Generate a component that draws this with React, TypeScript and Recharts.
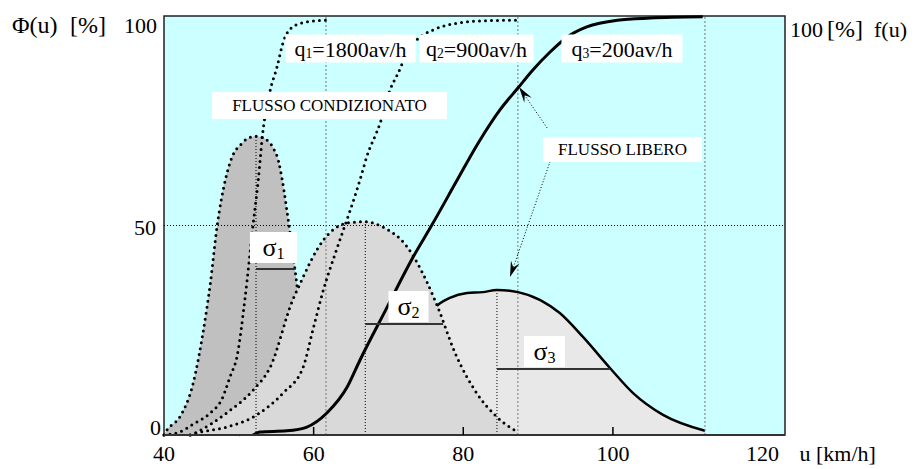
import React from 'react';
import {
  Area,
  CartesianGrid,
  ComposedChart,
  Line,
  ReferenceArea,
  ReferenceDot,
  ReferenceLine,
  XAxis,
  YAxis,
} from 'recharts';

type Row = [number, number];
type Pt = { u: number; p: number };

const toPoints = (rows: Row[]): Pt[] => rows.map(([u, p]) => ({ u, p }));

const serif = '"Liberation Serif", "Times New Roman", serif';

// axes
const xTicks = [40, 60, 80, 100, 120];
const yTicks = [0, 50, 100];

// frequency curves f(u), one per flow
const density1: Row[] = [
  [40, 0], [40.4, 1.2], [42.1, 4.3], [43.9, 12.4], [45.2, 24.3], [46.2, 36.3], [47.1, 49.9],
  [48.2, 60.9], [49.2, 66.8], [50.2, 69.2], [51.1, 70.7], [52.3, 71.3], [53.5, 70.7], [54.6, 68.5],
  [55.3, 65.4], [55.8, 60.9], [56.7, 50.1], [57.8, 35.3], [58.5, 24.3], [59.8, 12.4], [61.4, 4.3],
  [63.0, 0.7], [64.5, 0],
];
const density2: Row[] = [
  [43.5, 0], [44.4, 0.7], [48.4, 5.3], [51.9, 10.7], [54.2, 16.2], [57.2, 32.2], [57.8, 34.6],
  [61.3, 46.5], [64.5, 50.6], [66.9, 50.9], [69.3, 49.6], [72.5, 44.9], [75.2, 36.3], [76.6, 30.5],
  [78.9, 19.6], [81.8, 10.0], [84.5, 4.3], [87.3, 0.7],
];
const density3: Row[] = [
  [50, 0], [56, 3], [62, 8], [68, 15], [72, 21], [75, 27], [76.2, 30.3], [78.2, 32.7], [80.5, 33.9],
  [82.6, 34.1], [84.5, 34.6], [87.3, 34.1], [90.3, 32.2], [92.9, 29.1], [96.0, 23.4], [99.6, 16.0],
  [102.7, 10.0], [106.7, 4.8], [112.3, 1.0],
];

// cumulative curves Φ(u)
const cumul1: Row[] = [
  [40, 0], [42.1, 0.7], [43.9, 2.6], [46.2, 5.3], [47.8, 8.8], [48.8, 13.8], [49.8, 19.1],
  [50.8, 32.2], [51.9, 50.1], [52.6, 60.9], [53.2, 72.1], [54.2, 82.3], [55.1, 87.8], [55.9, 93.6],
  [57.2, 97.4], [59.1, 98.6], [61.65, 99.0],
];
const cumul2: Row[] = [
  [43.5, 0], [44.4, 0.5], [48.4, 1.9], [52.4, 4.8], [55.9, 10.0], [58.6, 16.2], [59.9, 25.1],
  [61.3, 34.6], [62.9, 43.4], [64.2, 50.1], [64.9, 53.7], [66.2, 60.9], [67.1, 66.4], [68.9, 74.5],
  [70.2, 82.3], [71.3, 86.4], [72.5, 91.2], [73.8, 94.3], [76.0, 96.7], [79.2, 98.3], [82.2, 98.8],
  [87.3, 99.0],
];
const cumul3: Row[] = [
  [51.9, 0], [52.8, 0.7], [56.4, 1.0], [59.1, 1.9], [61.8, 5.3], [64.5, 11.5], [66.2, 17.9],
  [69.5, 29.4], [73.3, 42.5], [75.8, 50.1], [79.2, 60.9], [82.0, 69.7], [84.9, 77.6], [87.3, 82.8],
  [89.3, 87.1], [91.6, 91.4], [93.9, 95.0], [96.5, 97.4], [100.6, 99.0], [105.0, 99.5], [112.0, 99.8],
];

// speed where each cumulative curve reaches 100%
const fullSpeeds = [61.65, 87.3, 112.3];
// mean speed and peak of each f(u)
const means: Row[] = [[52.3, 71.3], [66.9, 50.9], [84.5, 34.6]];
// standard deviation bars: [from u, to u, at %]
const sigmas: [number, number, number][] = [[52.3, 57.6, 39.6], [66.9, 77.3, 26.5], [84.5, 99.6, 15.75]];
// FLUSSO LIBERO arrows: [from u, from %, to u, to %]
const arrows: [number, number, number, number][] = [
  [91.2, 73.3, 87.45, 83.05],
  [92.0, 67.3, 86.24, 37.7],
];

type Note = { u: number; p: number; w: number; h: number; size: number; main: string; sub?: string; rest?: string };
const notes: Note[] = [
  { u: 64.93, p: 92.24, w: 130, h: 28, size: 22, main: 'q', sub: '1', rest: '=1800av/h' },
  { u: 81.77, p: 92.24, w: 114, h: 28, size: 22, main: 'q', sub: '2', rest: '=900av/h' },
  { u: 101.21, p: 92.24, w: 121, h: 28, size: 22, main: 'q', sub: '3', rest: '=200av/h' },
  { u: 62.12, p: 78.64, w: 235, h: 27, size: 17, main: 'FLUSSO CONDIZIONATO' },
  { u: 101.28, p: 68.14, w: 159, h: 25, size: 17, main: 'FLUSSO LIBERO' },
  { u: 54.63, p: 44.75, w: 47, h: 31, size: 26, main: 'σ', sub: '1' },
  { u: 72.68, p: 30.67, w: 40, h: 31, size: 26, main: 'σ', sub: '2' },
  { u: 90.86, p: 19.93, w: 41, h: 31, size: 26, main: 'σ', sub: '3' },
];

const dotted = { strokeDasharray: '0 6', strokeLinecap: 'round' as const, strokeWidth: 3 };

function noteShape(n: Note) {
  return (props: any) => {
    const { cx, cy } = props;
    const d = n.size * 0.22;
    return (
      <g>
        <rect x={cx - n.w / 2} y={cy - n.h / 2} width={n.w} height={n.h} fill="#fff" />
        <text x={cx} y={cy} textAnchor="middle" dominantBaseline="central" fontSize={n.size} fontFamily={serif} fill="#000">
          {n.main}
          {n.sub && <tspan fontSize={n.size * 0.62} dy={d}>{n.sub}</tspan>}
          {n.rest && <tspan dy={-d}>{n.rest}</tspan>}
        </text>
      </g>
    );
  };
}

function Arrow(props: any) {
  const { x1, y1, x2, y2 } = props;
  const dx = x2 - x1;
  const dy = y2 - y1;
  const len = Math.hypot(dx, dy) || 1;
  const ux = dx / len;
  const uy = dy / len;
  const bx = x2 - ux * 16;
  const by = y2 - uy * 16;
  const nx = x2 - ux * 10;
  const ny = y2 - uy * 10;
  const head = `${x2},${y2} ${bx - uy * 4.5},${by + ux * 4.5} ${nx},${ny} ${bx + uy * 4.5},${by - ux * 4.5}`;
  return (
    <g>
      <line x1={x1} y1={y1} x2={nx} y2={ny} stroke="#000" strokeWidth={1} strokeDasharray="1 2" />
      <polygon points={head} fill="#000" />
    </g>
  );
}

const leftShift: Record<number, [number, number]> = { 100: [1, 9], 50: [0, 2], 0: [5, -8] };

function LeftTick({ x, y, payload }: any) {
  const v = payload.value as number;
  const [sx, sy] = leftShift[v] ?? [0, 0];
  return (
    <g>
      {v === 100 && (
        <>
          <text x={12} y={y + sy} dominantBaseline="central" fontFamily={serif} fontSize={24} fill="#000">
            Φ(u)<tspan x={70}>[%]</tspan>
          </text>
          <text x={790} y={y + 13} dominantBaseline="central" fontFamily={serif} fontSize={22} fill="#000">
            100<tspan x={827} fontSize={24}>[%]</tspan><tspan x={874}>f(u)</tspan>
          </text>
        </>
      )}
      <text x={x + sx} y={y + sy} textAnchor="end" dominantBaseline="central" fontFamily={serif} fontSize={22} fill="#000">
        {v}
      </text>
    </g>
  );
}

function BottomTick({ x, y, payload }: any) {
  const v = payload.value as number;
  return (
    <g>
      {v > 40 && v < 120 && <line x1={x} x2={x} y1={y - 8} y2={y - 16} stroke="#000" strokeWidth={1.5} />}
      <text x={x} y={y + 10} textAnchor="middle" dominantBaseline="central" fontFamily={serif} fontSize={22} fill="#000">
        {v}
      </text>
      {v === 120 && (
        <text x={x + 37} y={y + 10} dominantBaseline="central" fontFamily={serif} fontSize={22} fill="#000">
          u [km/h]
        </text>
      )}
    </g>
  );
}

export default function App() {
  return (
    <div style={{ position: 'absolute', left: 0, top: 0, width: 919, height: 469, background: '#fff', fontFamily: serif }}>
      <ComposedChart width={919} height={469} margin={{ top: 16, right: 134, bottom: 0, left: 0 }}>
        <CartesianGrid fill="#ccffff" horizontal={false} vertical={false} />
        <XAxis
          dataKey="u"
          type="number"
          domain={[40, 123]}
          ticks={xTicks}
          interval={0}
          height={34}
          axisLine={{ stroke: '#333', strokeWidth: 2 }}
          tickLine={false}
          tick={<BottomTick />}
        />
        <YAxis
          domain={[0, 100]}
          ticks={yTicks}
          interval={0}
          width={164}
          axisLine={false}
          tickLine={false}
          tick={<LeftTick />}
        />

        <Area data={toPoints(density1)} dataKey="p" type="monotone" fill="#c0c0c0" fillOpacity={1} stroke="#000" {...dotted} isAnimationActive={false} dot={false} activeDot={false} />
        <Area data={toPoints(density3)} dataKey="p" type="monotone" fill="#e8e8e8" fillOpacity={1} stroke="#000" strokeWidth={2.5} isAnimationActive={false} dot={false} activeDot={false} />
        <Area data={toPoints(density2)} dataKey="p" type="monotone" fill="#d9d9d9" fillOpacity={1} stroke="#000" {...dotted} isAnimationActive={false} dot={false} activeDot={false} />

        <ReferenceLine y={50} stroke="#000" strokeWidth={1} strokeDasharray="1 2" />
        {fullSpeeds.map((u) => (
          <ReferenceLine key={`full-${u}`} x={u} stroke="#777" strokeWidth={1} strokeDasharray="2 2" />
        ))}
        {means.map(([u, top]) => (
          <ReferenceLine key={`mean-${u}`} segment={[{ x: u, y: 0 }, { x: u, y: top }]} stroke="#000" strokeWidth={1} strokeDasharray="1 2" />
        ))}

        <Line data={toPoints(cumul1)} dataKey="p" type="monotone" stroke="#000" {...dotted} dot={false} activeDot={false} isAnimationActive={false} />
        <Line data={toPoints(cumul2)} dataKey="p" type="monotone" stroke="#000" {...dotted} dot={false} activeDot={false} isAnimationActive={false} />
        <Line data={toPoints(cumul3)} dataKey="p" type="monotone" stroke="#000" strokeWidth={3} dot={false} activeDot={false} isAnimationActive={false} />

        {sigmas.map(([a, b, p]) => (
          <ReferenceLine key={`sig-${a}`} segment={[{ x: a, y: p }, { x: b, y: p }]} stroke="#333" strokeWidth={2} />
        ))}
        {arrows.map(([u1, p1, u2, p2]) => (
          <ReferenceLine key={`arr-${u1}-${p2}`} segment={[{ x: u1, y: p1 }, { x: u2, y: p2 }]} shape={Arrow} />
        ))}

        <ReferenceArea x1={40} x2={123} y1={0} y2={100} fill="none" stroke="#222" strokeWidth={1.5} />

        {notes.map((n) => (
          <ReferenceDot key={`${n.main}${n.sub ?? ''}`} x={n.u} y={n.p} r={1} shape={noteShape(n)} />
        ))}
      </ComposedChart>
    </div>
  );
}
